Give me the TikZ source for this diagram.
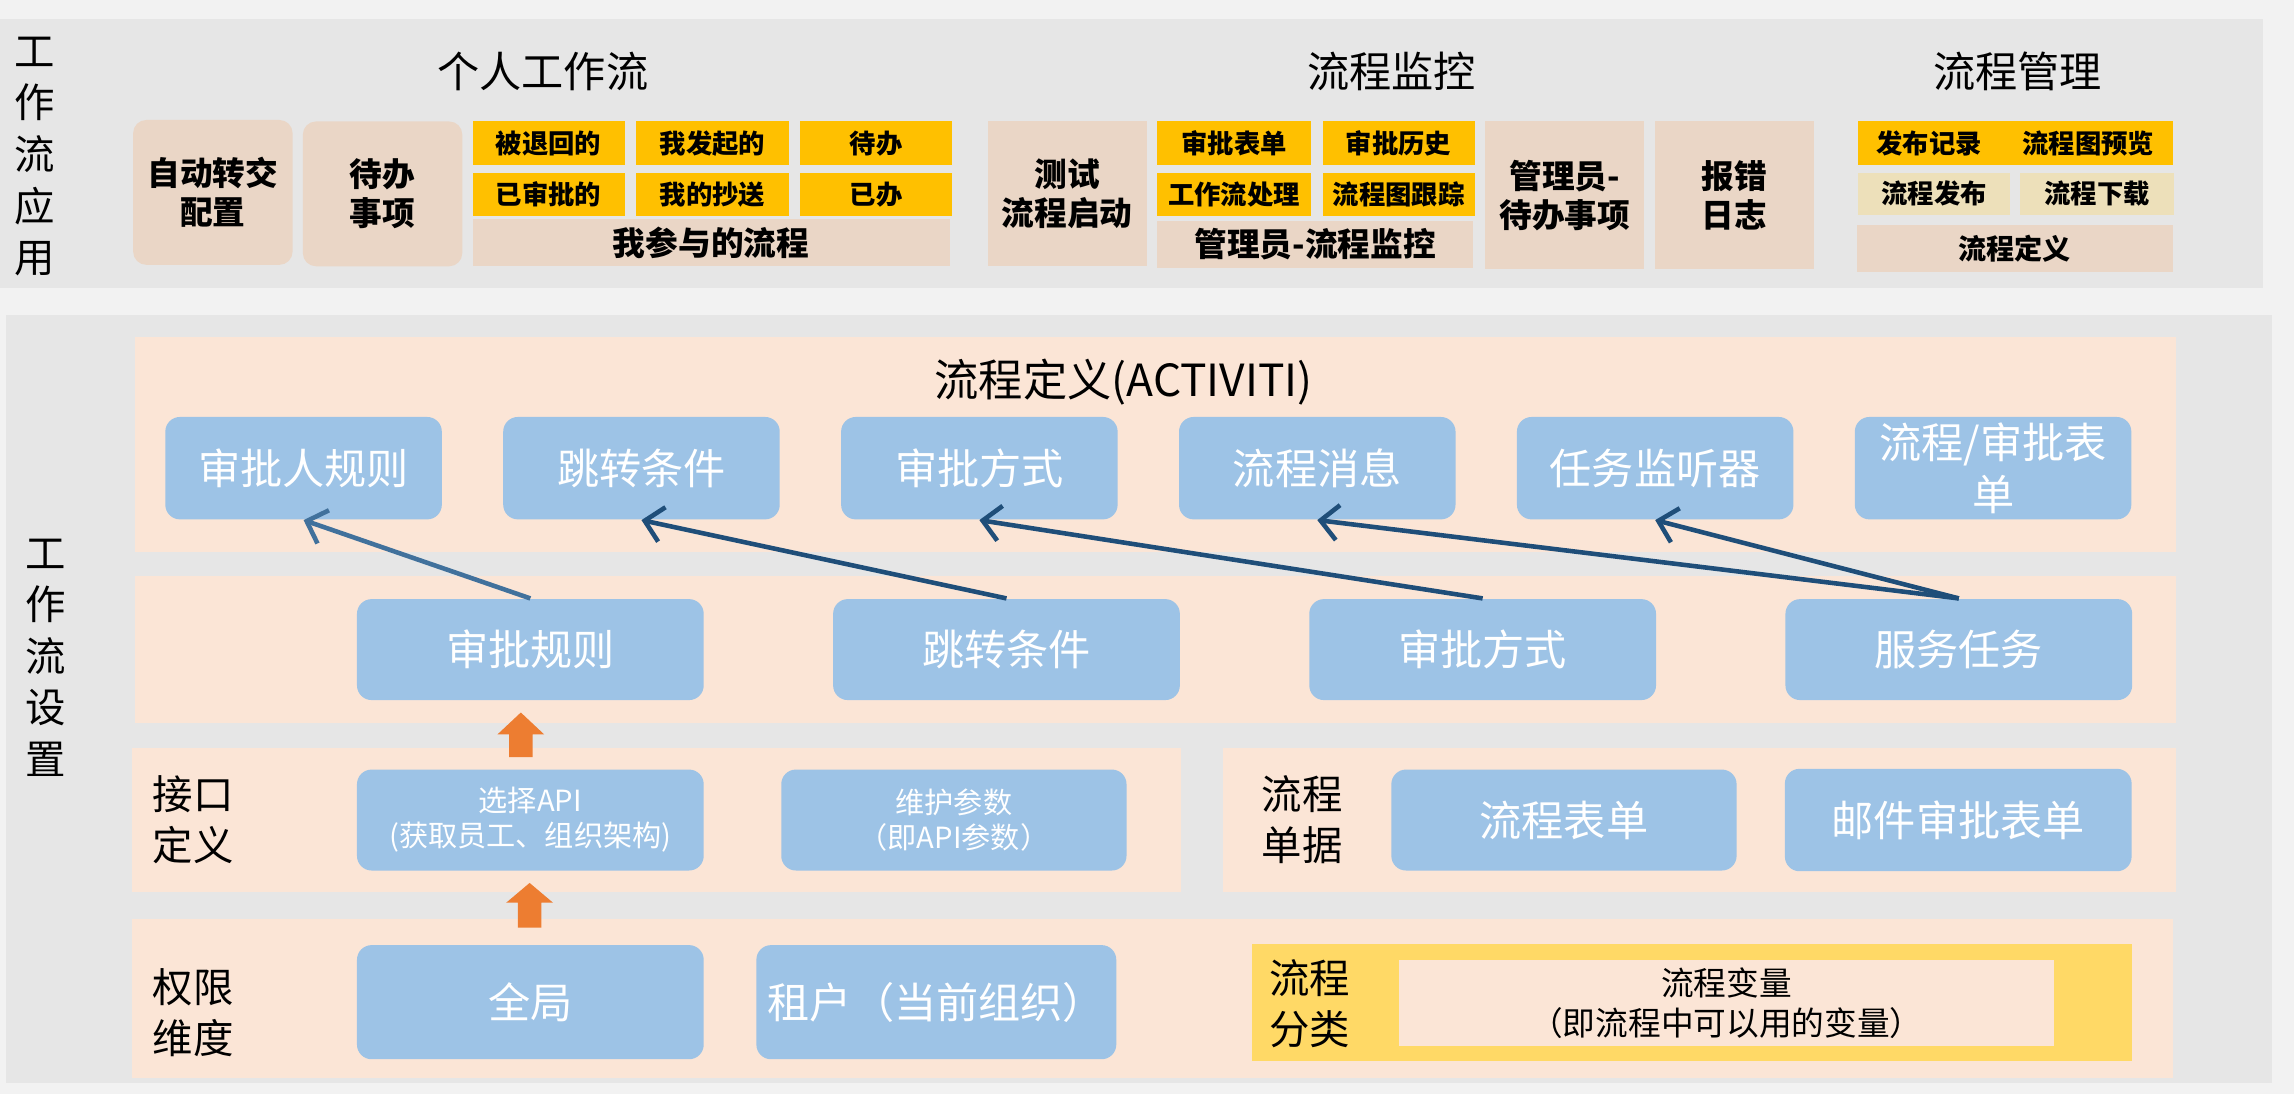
\documentclass[tikz,border=0pt]{standalone}
\usepackage{fontspec}
\setmainfont{Noto Sans CJK SC}
\usepackage{tikz}
\usetikzlibrary{positioning,arrows.meta}
\usepackage{xcolor}

\newlength\px
\setlength\px{0.01463cm}
\definecolor{bgc}{HTML}{F2F2F2}
\definecolor{bandc}{HTML}{E6E6E6}
\definecolor{peachc}{HTML}{FBE5D6}
\definecolor{tanc}{HTML}{EAD6C6}
\definecolor{goldc}{HTML}{FFC000}
\definecolor{khakic}{HTML}{EDE0BA}
\definecolor{bluec}{HTML}{9DC3E6}
\definecolor{navyc}{HTML}{1F4E79}
\definecolor{steelc}{HTML}{41719C}
\definecolor{orangec}{HTML}{ED7D31}
\definecolor{sandc}{HTML}{FFD966}

\begin{document}
\begin{tikzpicture}[x=0.01463cm, y=-0.01463cm, node distance=41*\px,
  tanbox/.style={fill=tanc, inner sep=0pt, align=center, minimum width=109*\px, minimum height=99*\px,
    font=\bfseries\fontsize{9.3}{11}\selectfont},
  goldbox/.style={fill=goldc, inner sep=0pt, minimum width=104*\px, minimum height=30*\px,
    font=\bfseries\fontsize{7.5}{9}\selectfont},
  bluebox/.style={fill=bluec, rounded corners=10*\px, inner sep=0pt, align=center, text=white,
    minimum width=237*\px, minimum height=69*\px, font=\fontsize{12}{15}\selectfont},
  sidelabel/.style={align=center, inner sep=0pt, font=\fontsize{11.5}{14.7}\selectfont},
  rowlabel/.style={align=left, anchor=west, inner sep=0pt, font=\fontsize{11.5}{14.5}\selectfont},
  title/.style={inner sep=0pt, font=\fontsize{12}{14}\selectfont},
  link/.style={-{Straight Barb[length=5pt,width=10pt]}, line width=1.3pt, navyc}]

  \fill[bgc] (0,0) rectangle (1568,748);
  \useasboundingbox (0,0) rectangle (1568,748);

  % Workflow application
  \begin{scope}
    \fill[bandc] (0,13) rectangle (1547,197);
    \node[sidelabel] (app) at (24,107) {工\\作\\流\\应\\用};

    \node[title] (t1) at (371,49) {个人工作流};
    \node[tanbox, rounded corners=9*\px] (auto) at (145.5,131.5) {自动转交\\配置};
    \node[tanbox, rounded corners=9*\px] (todo) at (261.5,132.5) {待办\\事项};
    \node[goldbox] (g1) at (375,98) {被退回的};
    \node[goldbox, right=7*\px of g1] (g2) {我发起的};
    \node[goldbox, right=7*\px of g2] (g3) {待办};
    \node[goldbox, below=4*\px of g1] (g4) {已审批的};
    \node[goldbox, below=4*\px of g2] (g5) {我的抄送};
    \node[goldbox, below=4*\px of g3] (g6) {已办};
    \node[tanbox, minimum width=326*\px, minimum height=32*\px] (mine) at (486,166) {我参与的流程};

    \node[title] (t2) at (951,49) {流程监控};
    \node[tanbox] (test) at (729.5,132.5) {测试\\流程启动};
    \node[goldbox, minimum width=105*\px] (m1) at (843.5,98) {审批表单};
    \node[goldbox, right=7*\px of m1] (m2) {审批历史};
    \node[goldbox, minimum width=105*\px, below=4*\px of m1] (m3) {工作流处理};
    \node[goldbox, below=4*\px of m2] (m4) {流程图跟踪};
    \node[tanbox, minimum width=216*\px, minimum height=32*\px] (madm) at (899,167) {管理员-流程监控};
    \node[tanbox, minimum height=101*\px] (atodo) at (1069.5,133.5) {管理员-\\待办事项};
    \node[tanbox, minimum height=101*\px] (err) at (1185.5,133.5) {报错\\日志};

    \node[title] (t3) at (1379,49) {流程管理};
    \node[goldbox, minimum width=215*\px] (pub) at (1377.5,98) {发布记录\hspace{11.6pt}流程图预览};
    \node[goldbox, fill=khakic, minimum height=29*\px] (rel) at (1322,132.5) {流程发布};
    \node[goldbox, fill=khakic, minimum width=105*\px, minimum height=29*\px] (dl) at (1433.5,132.5) {流程下载};
    \node[tanbox, minimum width=216*\px, minimum height=32*\px, font=\bfseries\fontsize{8}{10}\selectfont] (pdef) at (1377,170) {流程定义};
  \end{scope}

  % Workflow settings
  \begin{scope}
    \fill[bandc] (4,215) rectangle (1553,740);
    \node[sidelabel] (set) at (31,449.5) {工\\作\\流\\设\\置};

    \fill[peachc] (92,230) rectangle (1487,377);
    \fill[peachc] (92,394) rectangle (1487,494);
    \fill[peachc] (90,511) rectangle (807,610);
    \fill[peachc] (836,511) rectangle (1487,610);
    \fill[peachc] (90,628) rectangle (1485,737);

    % orange arrows
    \fill[orangec] (348,517.5) -- (348,502) -- (340,502) -- (356,487) -- (372,502) -- (364,502) -- (364,517.5) -- cycle;
    \fill[orangec] (354,634) -- (354,617) -- (346,617) -- (362,603.5) -- (378,617) -- (370,617) -- (370,634) -- cycle;

    \node[title, font=\fontsize{12.6}{15}\selectfont] (act) at (768,261) {流程定义(ACTIVITI)};
    \node[bluebox, minimum width=189*\px, minimum height=70*\px] (d1) at (207.5,320) {审批人规则};
    \node[bluebox, minimum width=189*\px, minimum height=70*\px, right=of d1] (d2) {跳转条件};
    \node[bluebox, minimum width=189*\px, minimum height=70*\px, right=of d2] (d3) {审批方式};
    \node[bluebox, minimum width=189*\px, minimum height=70*\px, right=of d3] (d4) {流程消息};
    \node[bluebox, minimum width=189*\px, minimum height=70*\px, right=of d4] (d5) {任务监听器};
    \node[bluebox, minimum width=189*\px, minimum height=70*\px, right=of d5] (d6) {流程/审批表\\单};

    \node[bluebox] (s1) at (362.5,444) {审批规则};
    \node[bluebox, right=87.5*\px of s1] (s2) {跳转条件};
    \node[bluebox, right=87.5*\px of s2] (s3) {审批方式};
    \node[bluebox, right=87.5*\px of s3] (s4) {服务任务};

    \path[link]
      (s1.north) edge[steelc] (d1.south)
      (s2.north) edge (d2.south)
      (s3.north) edge (d3.south)
      (s4.north) edge (d4.south)
                 edge (d5.south);

    \node[rowlabel] (ifc) at (104,560) {接口\\定义};
    \node[bluebox, font=\fontsize{8.3}{10}\selectfont] (api) at (362.5,560.5) {选择API\\(获取员工、组织架构)};
    \node[bluebox, minimum width=236*\px, font=\fontsize{8.3}{10}\selectfont] (par) at (652,560.5) {维护参数\\（即API参数）};

    \node[rowlabel] (doc) at (862,560) {流程\\单据};
    \node[bluebox, minimum width=236*\px] (form) at (1069,560.5) {流程表单};
    \node[bluebox, minimum height=70*\px] (mail) at (1338.5,560.5) {邮件审批表单};

    \node[rowlabel] (perm) at (104,692) {权限\\维度};
    \node[bluebox, minimum height=78*\px] (glob) at (362.5,685) {全局};
    \node[bluebox, minimum width=246*\px, minimum height=78*\px] (ten) at (640,685) {租户（当前组织）};
    \node[fill=sandc, inner sep=0pt, minimum width=601*\px, minimum height=80*\px] (cat) at (1156.5,685) {};
    \node[rowlabel] (catl) at (867,686) {流程\\分类};
    \node[fill=peachc, inner sep=0pt, align=center, minimum width=448*\px, minimum height=59*\px,
      font=\fontsize{9.3}{11.4}\selectfont] (var) at (1180,685.5) {流程变量\\（即流程中可以用的变量）};
  \end{scope}
\end{tikzpicture}
\end{document}
